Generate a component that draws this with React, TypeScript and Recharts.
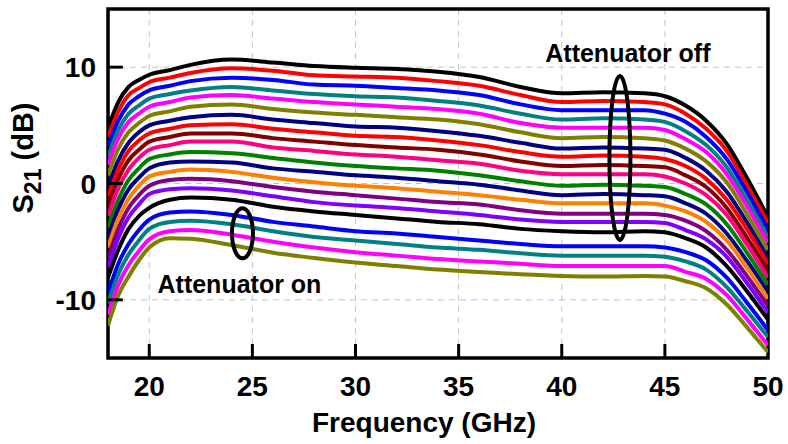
import React from "react";
import {
  LineChart,
  Line,
  XAxis,
  YAxis,
  CartesianGrid,
  ReferenceArea,
  ReferenceLine,
  ReferenceDot,
} from "recharts";

// Frequency points (GHz)
const freqGHz = [18, 18.5, 19, 19.5, 20, 21, 22, 24, 26, 28, 30, 32, 34, 36, 38, 40, 42, 44, 45, 46, 47, 48, 49, 50];

// S21 (dB) for each attenuation state, attenuator off (top) to attenuator on (bottom)
const s01 = [4.8, 7.0, 8.3, 8.9, 9.35, 9.75, 10.2, 10.65, 10.4, 10.1, 9.95, 9.85, 9.6, 9.15, 8.3, 7.75, 7.85, 7.75, 7.5, 6.7, 5.4, 3.4, 0.4, -2.9];
const s02 = [4.0, 6.2, 7.6, 8.2, 8.7, 9.1, 9.5, 9.9, 9.7, 9.3, 9.2, 9.1, 8.8, 8.4, 7.6, 7.0, 7.1, 7.0, 6.8, 6.0, 4.7, 2.8, -0.2, -3.4];
const s03 = [3.2, 5.4, 6.8, 7.5, 8.0, 8.4, 8.8, 9.1, 8.9, 8.5, 8.4, 8.2, 8.0, 7.6, 6.8, 6.3, 6.3, 6.3, 6.0, 5.3, 4.0, 2.1, -0.8, -4.0];
const s04 = [2.3, 4.6, 6.0, 6.7, 7.3, 7.7, 8.0, 8.3, 8.0, 7.7, 7.5, 7.4, 7.1, 6.7, 6.0, 5.5, 5.6, 5.5, 5.3, 4.5, 3.3, 1.4, -1.5, -4.6];
const s05 = [1.6, 3.9, 5.3, 6.0, 6.6, 7.0, 7.4, 7.6, 7.3, 7.0, 6.8, 6.6, 6.4, 6.0, 5.2, 4.8, 4.8, 4.8, 4.6, 3.8, 2.7, 0.8, -2.0, -5.1];
const s06 = [0.7, 3.0, 4.4, 5.2, 5.8, 6.2, 6.6, 6.8, 6.4, 6.1, 5.9, 5.7, 5.5, 5.1, 4.4, 3.9, 4.0, 3.9, 3.7, 3.0, 1.9, 0.1, -2.7, -5.7];
const s07 = [-0.3, 2.0, 3.5, 4.4, 5.0, 5.4, 5.7, 5.9, 5.5, 5.2, 4.9, 4.8, 4.5, 4.1, 3.5, 3.0, 3.1, 3.0, 2.9, 2.2, 1.1, -0.7, -3.4, -6.4];
const s08 = [-1.1, 1.2, 2.8, 3.7, 4.3, 4.7, 5.0, 5.1, 4.7, 4.4, 4.1, 4.0, 3.7, 3.3, 2.7, 2.3, 2.4, 2.3, 2.1, 1.5, 0.4, -1.4, -4.0, -6.9];
const s09 = [-1.9, 0.4, 2.0, 2.9, 3.6, 4.0, 4.3, 4.3, 3.9, 3.6, 3.3, 3.1, 2.9, 2.5, 1.9, 1.5, 1.6, 1.5, 1.4, 0.7, -0.3, -2.1, -4.7, -7.5];
const s10 = [-2.8, -0.4, 1.2, 2.2, 2.9, 3.3, 3.6, 3.6, 3.1, 2.8, 2.5, 2.3, 2.0, 1.7, 1.1, 0.8, 0.8, 0.8, 0.6, 0.0, -1.0, -2.7, -5.3, -8.1];
const s11 = [-3.8, -1.4, 0.3, 1.3, 2.1, 2.5, 2.7, 2.6, 2.2, 1.8, 1.5, 1.3, 1.1, 0.7, 0.2, -0.2, -0.1, -0.2, -0.3, -0.9, -1.8, -3.5, -6.0, -8.7];
const s12 = [-4.6, -2.2, -0.5, 0.5, 1.3, 1.8, 1.9, 1.8, 1.3, 1.0, 0.7, 0.5, 0.2, -0.1, -0.6, -1.0, -0.9, -1.0, -1.1, -1.7, -2.6, -4.3, -6.7, -9.3];
const s13 = [-5.5, -3.0, -1.3, -0.2, 0.6, 1.0, 1.2, 1.0, 0.5, 0.1, -0.2, -0.4, -0.7, -1.0, -1.4, -1.7, -1.7, -1.7, -1.9, -2.4, -3.3, -4.9, -7.3, -9.9];
const s14 = [-6.4, -3.9, -2.1, -1.0, -0.2, 0.3, 0.4, 0.2, -0.3, -0.7, -1.0, -1.3, -1.6, -1.8, -2.3, -2.6, -2.6, -2.6, -2.7, -3.2, -4.1, -5.7, -8.0, -10.5];
const s15 = [-7.2, -4.7, -2.9, -1.8, -0.9, -0.5, -0.4, -0.6, -1.1, -1.6, -1.9, -2.1, -2.4, -2.7, -3.1, -3.3, -3.3, -3.3, -3.4, -4.0, -4.8, -6.3, -8.6, -11.1];
const s16 = [-8.1, -5.7, -3.9, -2.8, -2.1, -1.4, -1.2, -1.4, -2.0, -2.4, -2.7, -3.0, -3.3, -3.5, -3.9, -4.1, -4.2, -4.1, -4.2, -4.7, -5.5, -7.1, -9.3, -11.7];
const s17 = [-9.4, -6.9, -5.2, -4.0, -3.1, -2.5, -2.4, -2.7, -3.3, -3.7, -4.1, -4.3, -4.6, -4.9, -5.2, -5.4, -5.4, -5.4, -5.5, -5.9, -6.6, -8.1, -10.3, -12.6];
const s18 = [-10.3, -7.8, -6.1, -4.9, -3.9, -3.3, -3.2, -3.5, -4.1, -4.6, -4.9, -5.2, -5.5, -5.7, -6.0, -6.2, -6.2, -6.2, -6.3, -6.7, -7.4, -8.9, -11.0, -13.2];
const s19 = [-11.3, -8.7, -7.0, -5.8, -4.8, -4.1, -4.0, -4.4, -5.0, -5.5, -5.9, -6.2, -6.5, -6.7, -6.9, -7.1, -7.1, -7.1, -7.1, -7.6, -8.2, -9.6, -11.7, -13.9];
const s20 = [-12.2, -9.6, -8.0, -6.6, -5.5, -4.7, -4.75, -5.3, -5.95, -6.4, -6.8, -7.1, -7.4, -7.6, -7.8, -7.95, -8.0, -7.95, -8.0, -8.4, -9.0, -10.4, -12.4, -14.5];

const seriesList = [s01, s02, s03, s04, s05, s06, s07, s08, s09, s10, s11, s12, s13, s14, s15, s16, s17, s18, s19, s20];
const seriesColors = [
  "#000000", "#ff0000", "#0000ff", "#008080", "#ff00ff",
  "#808000", "#000080", "#ff0000", "#800000", "#ff0080",
  "#008000", "#000080", "#ff8000", "#800080", "#8000ff",
  "#000000", "#0000ff", "#008080", "#ff00ff", "#808000",
];

const xTicks = [20, 25, 30, 35, 40, 45, 50];
const yTicks = [-10, 0, 10];
const xDomain = [18, 50];
const yDomain = [-15, 15];

// annotation anchors (data coordinates)
const offLabel = { x: 39.2, y: 10.45, text: "Attenuator off" };
const onLabel = { x: 20.4, y: -9.45, text: "Attenuator on" };
const offEllipse = { x: 42.82, y: 2.2 };
const onEllipse = { x: 24.52, y: -4.28 };

const data = freqGHz.map((f, i) => {
  const row: Record<string, number> = { f };
  seriesList.forEach((s, k) => {
    row[`s${k + 1}`] = s[i];
  });
  return row;
});

const FONT = "'Liberation Sans', Arial, sans-serif";

const XTick = (props: any) => {
  const { x, y, payload } = props;
  return (
    <text x={x} y={y} dy="0.71em" textAnchor="middle" fontFamily={FONT} fontWeight="bold" fontSize={28} fill="#000">
      {payload.value}
    </text>
  );
};

const YTick = (props: any) => {
  const { x, y, payload } = props;
  return (
    <text x={x} y={y} dy="0.36em" textAnchor="end" fontFamily={FONT} fontWeight="bold" fontSize={28} fill="#000">
      {payload.value}
    </text>
  );
};

const YLabel = () => (
  <text
    x={33}
    y={158}
    transform="rotate(-90, 33, 158)"
    textAnchor="middle"
    fontFamily={FONT}
    fontWeight="bold"
    fontSize={29}
    fill="#000"
  >
    <tspan>S</tspan>
    <tspan fontSize={23} dy={8}>21</tspan>
    <tspan dy={-8}>{"  (dB)"}</tspan>
  </text>
);

const XLabel = () => (
  <text x={424} y={432} textAnchor="middle" fontFamily={FONT} fontWeight="bold" fontSize={28} fill="#000">
    Frequency (GHz)
  </text>
);

export default function App() {
  return (
    <div style={{ position: "absolute", left: 0, top: 0, background: "#fff" }}>
      <LineChart
        width={788}
        height={444}
        data={data}
        margin={{ top: 9, right: 20, left: 0, bottom: 0 }}
      >
        <CartesianGrid stroke="#c4c4c4" strokeDasharray="6 5" strokeWidth={1} />
        <XAxis
          dataKey="f"
          type="number"
          domain={xDomain}
          ticks={xTicks}
          height={86}
          axisLine={false}
          tickLine={false}
          tickSize={6}
          tickMargin={12}
          tick={<XTick />}
          label={<XLabel />}
          allowDataOverflow
        />
        <YAxis
          type="number"
          domain={yDomain}
          ticks={yTicks}
          width={108}
          axisLine={false}
          tickLine={false}
          tickSize={6}
          tickMargin={6}
          tick={<YTick />}
          label={<YLabel />}
          allowDataOverflow
        />
        {seriesList.map((_, k) => (
          <Line
            key={k}
            dataKey={`s${k + 1}`}
            type="monotone"
            stroke={seriesColors[k]}
            strokeWidth={4}
            dot={false}
            activeDot={false}
            isAnimationActive={false}
          />
        ))}
        {xTicks.slice(0, -1).map((t) => (
          <ReferenceLine
            key={`xt${t}`}
            segment={[{ x: t, y: yDomain[0] }, { x: t, y: yDomain[0] + 1.2 }]}
            stroke="#000"
            strokeWidth={3}
          />
        ))}
        {yTicks.map((t) => (
          <ReferenceLine
            key={`yt${t}`}
            segment={[{ x: xDomain[0], y: t }, { x: xDomain[0] + 0.72, y: t }]}
            stroke="#000"
            strokeWidth={3}
          />
        ))}
        <ReferenceArea
          x1={xDomain[0]}
          x2={xDomain[1]}
          y1={yDomain[0]}
          y2={yDomain[1]}
          fill="none"
          fillOpacity={0}
          stroke="#000"
          strokeWidth={3.5}
        />
        <ReferenceDot
          x={offEllipse.x}
          y={offEllipse.y}
          shape={(p: any) => (
            <ellipse cx={p.cx} cy={p.cy} rx={10.5} ry={82} fill="none" stroke="#000" strokeWidth={4} />
          )}
        />
        <ReferenceDot
          x={onEllipse.x}
          y={onEllipse.y}
          shape={(p: any) => (
            <ellipse cx={p.cx} cy={p.cy} rx={10.5} ry={25} fill="none" stroke="#000" strokeWidth={4} />
          )}
        />
        <ReferenceDot
          x={offLabel.x}
          y={offLabel.y}
          shape={(p: any) => (
            <text x={p.cx} y={p.cy} textAnchor="start" fontFamily={FONT} fontWeight="bold" fontSize={25} fill="#000">
              {offLabel.text}
            </text>
          )}
        />
        <ReferenceDot
          x={onLabel.x}
          y={onLabel.y}
          shape={(p: any) => (
            <text x={p.cx} y={p.cy} textAnchor="start" fontFamily={FONT} fontWeight="bold" fontSize={25} fill="#000">
              {onLabel.text}
            </text>
          )}
        />
      </LineChart>
    </div>
  );
}
